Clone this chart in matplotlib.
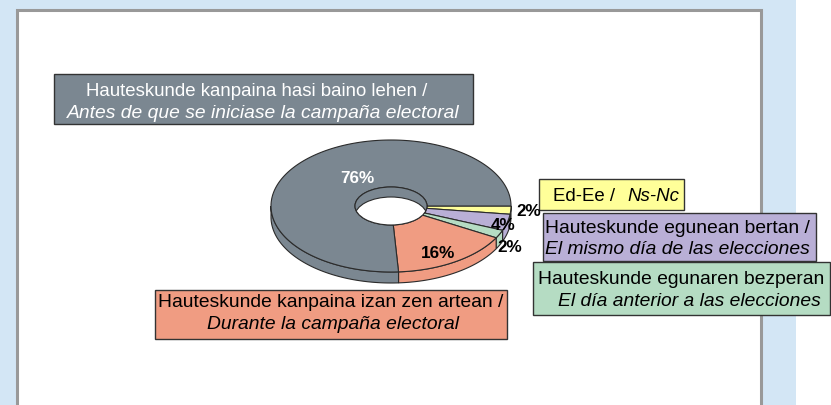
#!/usr/bin/env python3
"""Pie chart: when voters made up their mind (Basque/Spanish labels)"""

import matplotlib
matplotlib.use('Agg')
import matplotlib.pyplot as plt
from matplotlib.patches import Ellipse, Polygon, Rectangle
import numpy as np

plt.rcParams['font.family'] = ['Liberation Sans', 'DejaVu Sans']

# data, clockwise starting from 3 o'clock
shares = [2, 4, 2, 16, 76]
share_labels = ['2%', '4%', '2%', '16%', '76%']
basque_labels = ['Ed-Ee /', 'Hauteskunde egunean bertan /', 'Hauteskunde egunaren bezperan',
                 'Hauteskunde kanpaina izan zen artean /', 'Hauteskunde kanpaina hasi baino lehen /']
spanish_labels = ['Ns-Nc', 'El mismo día de las elecciones', 'El día anterior a las elecciones',
                  'Durante la campaña electoral', 'Antes de que se iniciase la campaña electoral']

colors = ['#ffff99', '#b9afd6', '#b5dcc3', '#f09c82', '#7b8791']
EDGE = '#2b2b2b'
FS = 13.9
FS_GREY = 13.4
FS_PCT = 12.3

# pie geometry in pixels
CX, CY = 391, 207
RX, RY = 120, 66
HX, HY = 36, 19
DEPTH = 11


def arc(t0, t1, rx, ry, dy=0):
    """Points on an ellipse, angles in degrees going clockwise on screen"""
    n = max(int(abs(t1 - t0)) + 2, 3)
    t = np.radians(np.linspace(t0, t1, n))
    return np.column_stack([CX + rx * np.cos(t), CY + dy + ry * np.sin(t)])


fig = plt.figure(figsize=(8.31, 4.06), dpi=100, facecolor='white')
ax = fig.add_axes([0, 0, 1, 1])
ax.set_xlim(0, 831)
ax.set_ylim(406, 0)
ax.axis('off')

# page background and panel
ax.add_patch(Rectangle((0, 0), 796, 406, fc='#d3e6f5', ec='none', zorder=0))
ax.add_patch(Rectangle((16.5, 10.5), 744, 400, fc='white', ec='#999999', lw=2.2, zorder=1))

edges = np.concatenate([[0], np.cumsum(shares)]) * 3.6

# outer wall, only the part facing the viewer
for i, c in enumerate(colors):
    t0, t1 = edges[i], min(edges[i + 1], 180)
    if t0 >= 180:
        continue
    pts = np.vstack([arc(t0, t1, RX, RY), arc(t1, t0, RX, RY, DEPTH)])
    ax.add_patch(Polygon(pts, fc=c, ec=EDGE, lw=0.8, zorder=2))

# top face
for i, c in enumerate(colors):
    outer = arc(edges[i], edges[i + 1], RX, RY)
    inner = arc(edges[i + 1], edges[i], HX, HY)
    ax.add_patch(Polygon(np.vstack([outer, inner]), fc=c, ec=EDGE, lw=0.8, zorder=3))

# hole: inner wall in the big slice colour, white where you see through
hole = Ellipse((CX, CY), 2 * HX, 2 * HY, fc=colors[4], ec='none', zorder=4)
ax.add_patch(hole)
through = Ellipse((CX, CY + DEPTH - 1), 2 * HX, 2 * HY, fc='white', ec=EDGE, lw=0.8, zorder=5)
ax.add_patch(through)
through.set_clip_path(hole)
ax.add_patch(Ellipse((CX, CY), 2 * HX, 2 * HY, fc='none', ec=EDGE, lw=0.8, zorder=5))

# percentages
share_xy = [(529, 212), (503, 226), (510, 248), (438, 253), (357, 179)]
share_col = ['black', 'black', 'black', 'black', 'white']
for s, (x, y), c in zip(share_labels, share_xy, share_col):
    ax.text(x, y, s, color=c, fontsize=FS_PCT, fontweight='bold', ha='center', va='center', zorder=9)

# label boxes: x0, y0, x1, y1
boxes = [(539, 180, 684, 211), (543, 214, 816, 262), (533, 263, 830, 316),
         (155, 291, 507, 340), (54, 75, 473, 125)]
for (x0, y0, x1, y1), c in zip(boxes, colors):
    ax.add_patch(Rectangle((x0, y0), x1 - x0, y1 - y0, fc=c, ec='#333333', lw=1.0, zorder=6))

# one line pair per box
ax.text(553, 197, basque_labels[0], fontsize=FS_GREY, va='center', zorder=8)
ax.text(627, 197, spanish_labels[0], fontsize=FS_GREY, style='italic', va='center', zorder=8)
ax.text(545, 228.5, basque_labels[1], fontsize=FS, va='center', zorder=8)
ax.text(545, 250, spanish_labels[1], fontsize=FS, style='italic', va='center', zorder=8)
ax.text(538, 280, basque_labels[2], fontsize=FS, va='center', zorder=8)
ax.text(558, 302, spanish_labels[2], fontsize=FS, style='italic', va='center', zorder=8)
ax.text(331, 303, basque_labels[3], fontsize=FS, ha='center', va='center', zorder=8)
ax.text(333, 325, spanish_labels[3], fontsize=FS, style='italic', ha='center', va='center', zorder=8)
ax.text(257, 91, basque_labels[4], fontsize=FS_GREY, color='white', ha='center', va='center', zorder=8)
ax.text(263, 114, spanish_labels[4], fontsize=FS, color='white', style='italic', ha='center', va='center', zorder=8)

fig.savefig('out.png', dpi=100, facecolor='white')
